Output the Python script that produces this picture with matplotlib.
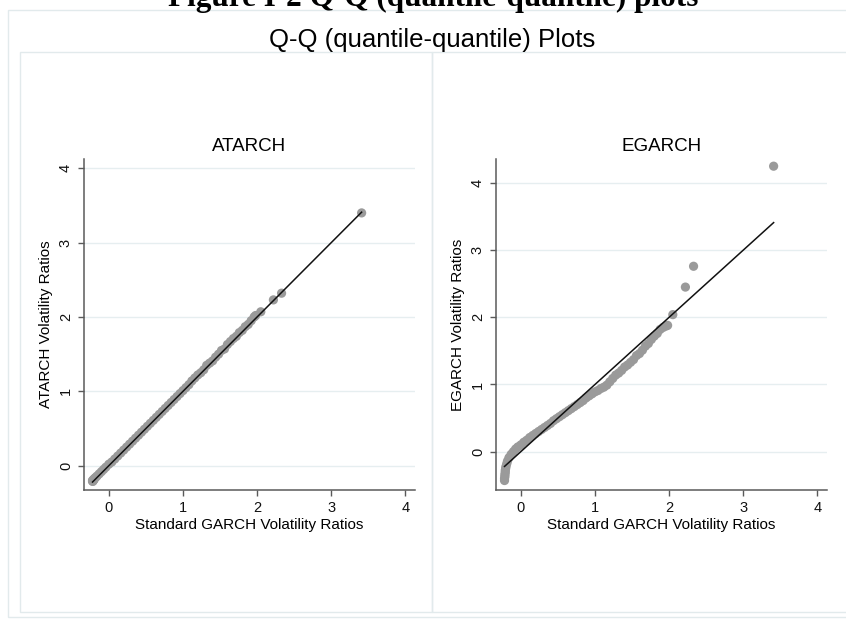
import matplotlib.pyplot as plt
from matplotlib.patches import Rectangle

# quantiles
garch = [-0.22, -0.22, -0.215, -0.215, -0.21, -0.21, -0.205, -0.20, -0.19, -0.18,
         -0.16, -0.13, -0.10, -0.07, -0.04, 0.00, 0.04, 0.08, 0.12, 0.16,
         0.20, 0.24, 0.28, 0.32, 0.36, 0.40, 0.44, 0.48, 0.52, 0.56,
         0.60, 0.64, 0.68, 0.72, 0.76, 0.80, 0.84, 0.88, 0.92, 0.96,
         1.00, 1.04, 1.08, 1.12, 1.16, 1.20, 1.24, 1.28, 1.32, 1.36,
         1.40, 1.44, 1.48, 1.52, 1.56, 1.60, 1.64, 1.68, 1.72, 1.76,
         1.80, 1.84, 1.88, 1.92, 1.96, 1.98, 2.05, 2.22, 2.33, 3.41]

atarch = [-0.21, -0.20, -0.21, -0.20, -0.20, -0.19, -0.19, -0.18, -0.17, -0.16,
          -0.14, -0.11, -0.08, -0.05, -0.02, 0.02, 0.05, 0.09, 0.13, 0.17,
          0.21, 0.25, 0.29, 0.33, 0.37, 0.41, 0.45, 0.49, 0.53, 0.57,
          0.61, 0.65, 0.69, 0.73, 0.77, 0.81, 0.85, 0.89, 0.93, 0.97,
          1.01, 1.05, 1.09, 1.14, 1.18, 1.22, 1.25, 1.29, 1.35, 1.38,
          1.41, 1.46, 1.50, 1.55, 1.57, 1.63, 1.67, 1.71, 1.74, 1.79,
          1.82, 1.87, 1.90, 1.95, 2.00, 2.02, 2.07, 2.23, 2.32, 3.40]

egarch = [-0.43, -0.40, -0.37, -0.34, -0.31, -0.28, -0.25, -0.22, -0.18, -0.14,
          -0.09, -0.04, 0.00, 0.04, 0.07, 0.10, 0.14, 0.17, 0.21, 0.24,
          0.27, 0.30, 0.33, 0.36, 0.39, 0.42, 0.46, 0.49, 0.52, 0.55,
          0.58, 0.61, 0.64, 0.67, 0.70, 0.73, 0.76, 0.80, 0.83, 0.86,
          0.89, 0.91, 0.94, 0.96, 0.99, 1.04, 1.09, 1.14, 1.17, 1.21,
          1.26, 1.29, 1.33, 1.37, 1.43, 1.46, 1.51, 1.57, 1.61, 1.67,
          1.72, 1.76, 1.82, 1.85, 1.87, 1.88, 2.04, 2.45, 2.76, 4.25]

xlab = "Standard GARCH Volatility Ratios"
ticks = [0, 1, 2, 3, 4]

plt.rcParams["font.family"] = ["Liberation Sans", "DejaVu Sans"]
W, H = 846, 621
fig = plt.figure(figsize=(W / 100, H / 100), dpi=100)

def box(x0, y0, x1, y1):
    fig.patches.append(Rectangle((x0 / W, 1 - y1 / H), (x1 - x0) / W, (y1 - y0) / H,
                                 transform=fig.transFigure, fill=False,
                                 edgecolor="#e2eaec", lw=1.0))

box(8, 10, 852, 617)
box(20, 52, 432, 612)
box(432, 52, 852, 612)

# heading of the page, cut at the top edge in the original
fig.text(433.5 / W, 1 - 6 / H, "Figure I-2 Q-Q (quantile-quantile) plots",
         ha="center", va="baseline", fontsize=22.5, fontweight="bold",
         family="Liberation Serif")
fig.text(432.5 / W, 1 - 47 / H, "Q-Q (quantile-quantile) Plots",
         ha="center", va="baseline", fontsize=18.5)

panels = [
    (84, "ATARCH", atarch, "ATARCH Volatility Ratios", (-0.327, 4.125)),
    (496, "EGARCH", egarch, "EGARCH Volatility Ratios", (-0.571, 4.357)),
]

for left, name, yvals, ylab, ylim in panels:
    ax = fig.add_axes([left / W, 1 - 490 / H, 331 / W, 331 / H])
    ax.scatter(garch, yvals, s=44, color="#9a9a9a", edgecolors="none", zorder=2)
    ax.plot([garch[0], garch[-1]], [garch[0], garch[-1]], color="#111111", lw=1.1, zorder=3)
    ax.set_xlim(-0.335, 4.13)
    ax.set_ylim(*ylim)
    ax.set_xticks(ticks)
    ax.set_yticks(ticks)
    ax.yaxis.grid(True, color="#e6eef0", lw=1.0)
    ax.set_axisbelow(True)
    for s in ["top", "right"]:
        ax.spines[s].set_visible(False)
    for s in ["left", "bottom"]:
        ax.spines[s].set_color("#5a5a5a")
        ax.spines[s].set_linewidth(1.1)
    ax.tick_params(length=4.5, width=1.0, color="#5a5a5a", labelsize=10.5,
                   labelcolor="#111111", pad=3.5)
    ax.tick_params(axis="y", labelrotation=90)
    for t in ax.get_yticklabels():
        t.set_va("center")
    ax.set_title(name, fontsize=13.5, pad=6)
    ax.set_xlabel(xlab, fontsize=11, labelpad=2)
    ax.set_ylabel(ylab, fontsize=11, labelpad=4)

fig.savefig("out.png", dpi=100)
